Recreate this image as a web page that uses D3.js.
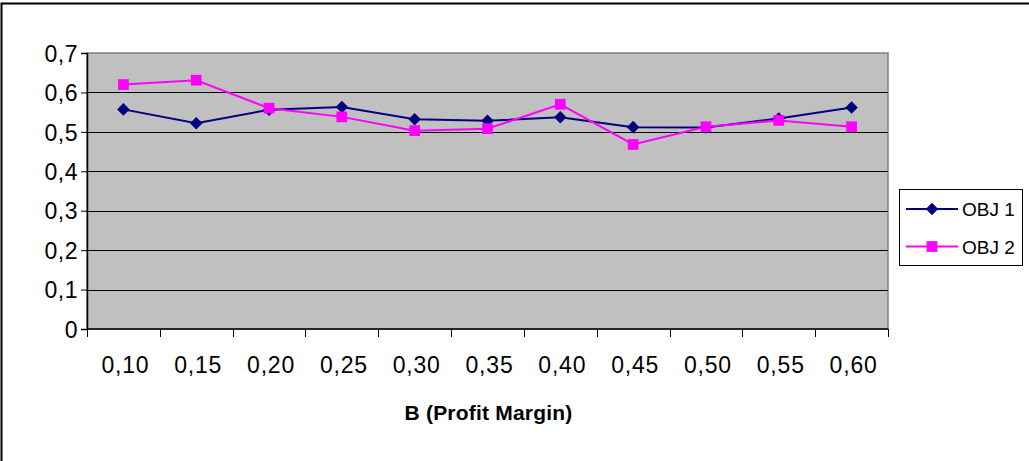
<!DOCTYPE html>
<html>
<head>
<meta charset="utf-8">
<script src="https://cdn.jsdelivr.net/npm/d3@7/dist/d3.min.js"></script>
<style>
  html, body { margin: 0; padding: 0; background: #fff; }
  svg { display: block; font-family: Arial, "Liberation Sans", sans-serif; }
</style>
</head>
<body>
<svg id="chart" width="1029" height="461"></svg>
<script>
// Profit margin categories along the x axis
const categories = ["0,10", "0,15", "0,20", "0,25", "0,30", "0,35", "0,40", "0,45", "0,50", "0,55", "0,60"];

// Objective values per profit margin
const obj1 = [0.557, 0.522, 0.556, 0.563, 0.532, 0.528, 0.537, 0.512, 0.511, 0.534, 0.562];
const obj2 = [0.620, 0.631, 0.560, 0.538, 0.503, 0.508, 0.570, 0.468, 0.513, 0.529, 0.513];

const seriesNames = ["OBJ 1", "OBJ 2"];
const yTicks = [0, 0.1, 0.2, 0.3, 0.4, 0.5, 0.6, 0.7];
const xTitle = "B (Profit Margin)";

const svg = d3.select("#chart");
const fmt = v => d3.format(".1f")(v).replace(".", ",").replace(/^0,0$/, "0");

const plot = { left: 87, top: 53, right: 888, bottom: 329 };

// Outer chart frame
svg.append("rect")
  .attr("x", 1.5).attr("y", 3.5)
  .attr("width", 1100).attr("height", 600)
  .attr("fill", "none").attr("stroke", "#000").attr("stroke-width", 2);

const x = d3.scaleBand().domain(categories).range([plot.left, plot.right]).paddingInner(0).paddingOuter(0);
const y = d3.scaleLinear().domain([0, 0.7]).range([plot.bottom, plot.top]);

// Plot area background
svg.append("rect")
  .attr("x", plot.left).attr("y", plot.top)
  .attr("width", plot.right - plot.left).attr("height", plot.bottom - plot.top)
  .attr("fill", "#C0C0C0").attr("stroke", "#808080").attr("stroke-width", 1.5);

// Horizontal gridlines
svg.append("g").selectAll("line")
  .data(yTicks.filter(t => t > 0 && t < 0.7))
  .join("line")
  .attr("x1", plot.left).attr("x2", plot.right)
  .attr("y1", d => Math.round(y(d)) + 0.5).attr("y2", d => Math.round(y(d)) + 0.5)
  .attr("stroke", "#000").attr("stroke-width", 1);

// Y axis
const yAxis = svg.append("g")
  .attr("transform", `translate(${plot.left},0)`)
  .call(d3.axisLeft(y).tickValues(yTicks).tickFormat(fmt).tickSize(6).tickPadding(3));
yAxis.attr("font-family", null).attr("font-size", null);
yAxis.select(".domain").attr("stroke", "#000").attr("stroke-width", 1.5);
yAxis.selectAll(".tick line").attr("stroke", "#000");
yAxis.selectAll(".tick text")
  .attr("font-size", 23).attr("fill", "#000")
  .attr("letter-spacing", 0.5)
  .attr("dy", "0.36em");

// X axis with ticks on category boundaries
const xAxis = svg.append("g")
  .attr("transform", `translate(0,${plot.bottom})`);
xAxis.append("line")
  .attr("x1", plot.left).attr("x2", plot.right)
  .attr("y1", 0).attr("y2", 0)
  .attr("stroke", "#000").attr("stroke-width", 1.5);
const boundaries = categories.map(c => x(c)).concat([x(categories[categories.length - 1]) + x.bandwidth()]);
xAxis.selectAll("line.tk").data(boundaries).join("line")
  .attr("class", "tk")
  .attr("x1", d => Math.round(d) + 0.5).attr("x2", d => Math.round(d) + 0.5)
  .attr("y1", 0).attr("y2", 8)
  .attr("stroke", "#000");
xAxis.selectAll("text").data(categories).join("text")
  .attr("x", d => x(d) + x.bandwidth() / 2 + 2)
  .attr("y", 44)
  .attr("text-anchor", "middle")
  .attr("font-size", 23)
  .attr("letter-spacing", 0.8)
  .attr("fill", "#000")
  .text(d => d);

// Axis title
svg.append("text")
  .attr("x", (plot.left + plot.right) / 2 + 1)
  .attr("y", 420)
  .attr("text-anchor", "middle")
  .attr("font-size", 21)
  .attr("font-weight", "bold")
  .attr("letter-spacing", 0.2)
  .text(xTitle);

const cx = d => x(d) + x.bandwidth() / 2;
const colors = ["#000080", "#FF00FF"];
const data = [obj1, obj2];

const lineGen = d3.line()
  .x((d, i) => cx(categories[i]))
  .y(d => y(d));

const diamond = d3.symbol().type(d3.symbolDiamond2).size(100);
const square = d3.symbol().type(d3.symbolSquare).size(115);
const symbols = [diamond, square];

data.forEach((vals, s) => {
  svg.append("path")
    .datum(vals)
    .attr("d", lineGen)
    .attr("fill", "none")
    .attr("stroke", colors[s])
    .attr("stroke-width", 2);
});
data.forEach((vals, s) => {
  svg.append("g").selectAll("path")
    .data(vals)
    .join("path")
    .attr("transform", (d, i) => `translate(${cx(categories[i])},${y(d)})`)
    .attr("d", symbols[s])
    .attr("fill", colors[s]);
});

// Legend
const legend = svg.append("g");
legend.append("rect")
  .attr("x", 899.5).attr("y", 189.5)
  .attr("width", 123).attr("height", 76)
  .attr("fill", "#fff").attr("stroke", "#000").attr("stroke-width", 1);
const legendRows = [209, 246.5];
seriesNames.forEach((name, s) => {
  const ly = legendRows[s];
  legend.append("line")
    .attr("x1", 906).attr("x2", 958)
    .attr("y1", ly).attr("y2", ly)
    .attr("stroke", colors[s]).attr("stroke-width", 2);
  legend.append("path")
    .attr("transform", `translate(932,${ly})`)
    .attr("d", symbols[s])
    .attr("fill", colors[s]);
  legend.append("text")
    .attr("x", 962).attr("y", ly + 7)
    .attr("font-size", 19)
    .attr("fill", "#000")
    .text(name);
});
</script>
</body>
</html>
